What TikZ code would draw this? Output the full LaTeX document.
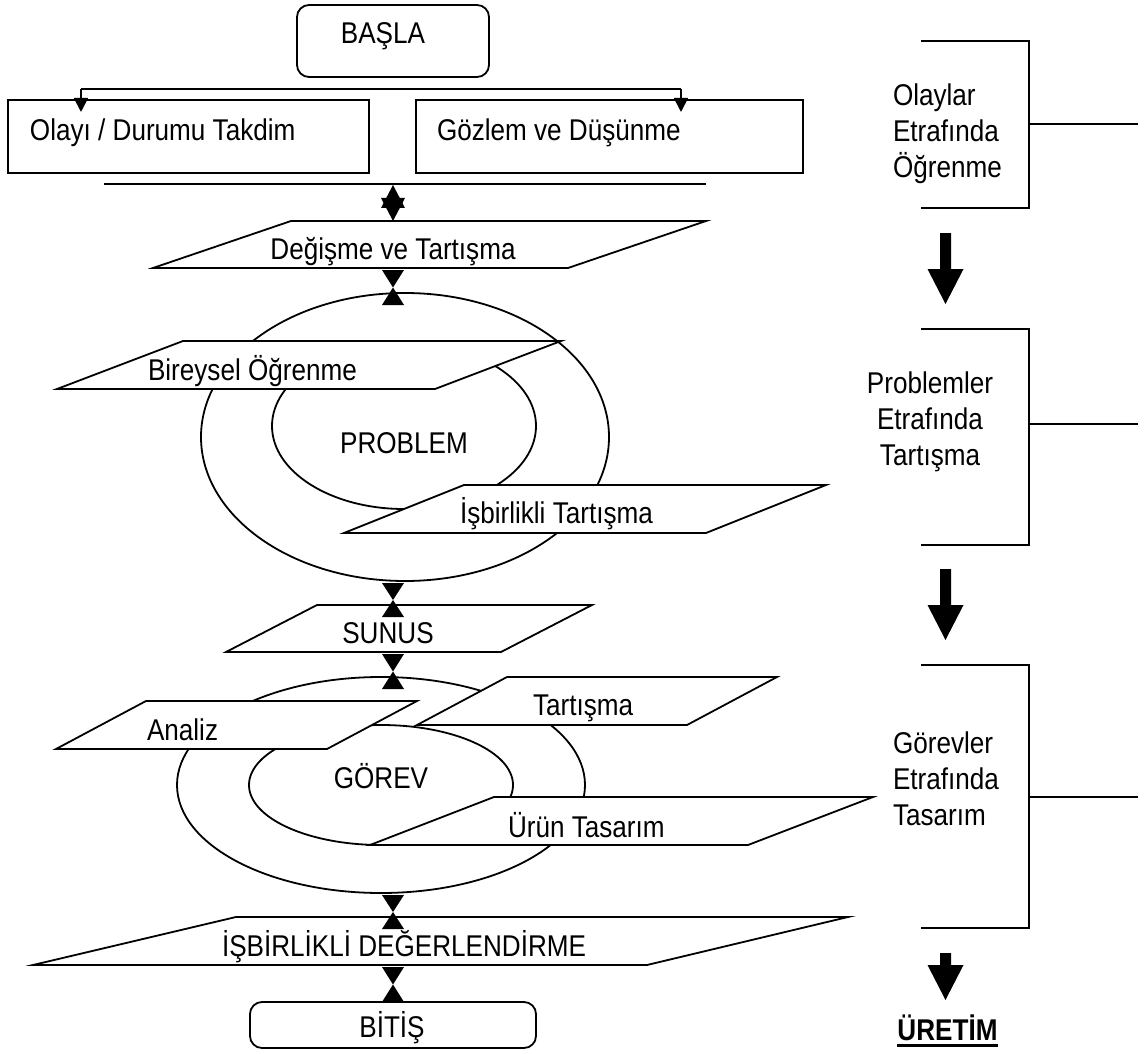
\documentclass[tikz,border=0pt]{standalone}
\usepackage{fontspec}
\setmainfont{Liberation Sans}[FakeStretch=0.87]
\usetikzlibrary{calc,arrows.meta,shapes.geometric}

% two filled triangles meeting point to point between #1 (upper) and #2 (lower)
\newcommand\hglass[2]{%
  \fill ($(#1)+(-11pt,0)$) -- ($(#1)+(11pt,0)$) -- ($(#1)!.5!(#2)$) -- cycle;
  \fill ($(#2)+(-11pt,0)$) -- ($(#2)+(11pt,0)$) -- ($(#1)!.5!(#2)$) -- cycle;}

% thick block arrow: shaft top centre #1, shaft length #2, head length #3
\newcommand\blockarrow[3]{%
  \fill ($(#1)+(-5.5,0)$) -- ++(11,0) -- ++(0,#2) -- ++(12.5,0)
        -- ++(-18,#3) -- ++(-18,-#3) -- ++(12.5,0) -- cycle;}

\begin{document}
\begin{tikzpicture}[x=1pt,y=-1pt,
  every node/.style={inner sep=0pt, outer sep=0pt, font=\fontsize{30}{36}\selectfont},
  outline/.style={draw=black, line width=1.8pt},
  plate/.style={outline, fill=white, line join=miter},
  termbox/.style={plate, rectangle, rounded corners=12pt},
  stepbox/.style={plate, rectangle},
  ring/.style={outline, ellipse},
  lbl/.style={anchor=base west},
  clbl/.style={anchor=base},
  fork/.style={outline, -{Triangle[length=14pt,width=14pt]}}
]
\useasboundingbox (0,0) rectangle (1144,1054);
\coordinate (axis) at (393,0);

% ---------- start and the two opening steps ----------
\node[termbox, minimum width=192pt, minimum height=72pt] (start) at (393,41) {};
\node[clbl] (start-t) at (383,44) {BAŞLA};

\node[stepbox, anchor=north west, minimum width=361pt, minimum height=73pt] (olay) at (8,100) {};
\node[lbl] (olay-t) at (30,141) {Olayı / Durumu Takdim};
\node[stepbox, anchor=north west, minimum width=387pt, minimum height=73pt] (gozlem) at (416,100) {};
\node[lbl] (gozlem-t) at (437,141) {Gözlem ve Düşünme};

\coordinate (fork-l) at (81,89);
\coordinate (fork-r) at (681,89);
\draw[outline] (fork-l) -- (fork-r);
\draw[fork] (fork-l) -- ($(fork-l |- olay.north)+(0,12)$);
\draw[fork] (fork-r) -- ($(fork-r |- gozlem.north)+(0,12)$);

\coordinate (bar-l) at (104,184);
\coordinate (bar-r) at (706,184);
\draw[outline] (bar-l) -- (bar-r);

% ---------- exchange and discussion ----------
\draw[plate] (291,221) -- (706,221) -- (568,268) -- (153,268) -- cycle;
\coordinate (deg-t) at (393,221);
\coordinate (deg-b) at (393,268);
\node[clbl] (deg-lbl) at (393,259) {Değişme ve Tartışma};

% double head between the bar and the exchange step
\fill ($(bar-l -| axis)+(0,1)$) -- ++(-12,23) -- ++(24,0) -- cycle;
\fill (deg-t) -- ++(-12,-23) -- ++(24,0) -- cycle;

% ---------- problem cycle ----------
\node[ring, minimum width=408pt, minimum height=288pt] (probo) at (405,437) {};
\node[ring, minimum width=264pt, minimum height=166pt] (probi) at (404,426) {};
\node[clbl] (prob-lbl) at (404,453) {PROBLEM};

\draw[plate] (183,341) -- (561,341) -- (435,389) -- (57,389) -- cycle;
\node[lbl] (bir-lbl) at (148,380) {Bireysel Öğrenme};
\draw[plate] (464,485) -- (826,485) -- (706,533) -- (344,533) -- cycle;
\node[lbl] (isb-lbl) at (460,523) {İşbirlikli Tartışma};

% ---------- presentation ----------
\draw[plate] (317,605) -- (592,605) -- (501,652) -- (226,652) -- cycle;
\coordinate (sun-t) at (393,605);
\coordinate (sun-b) at (393,652);
\node[clbl] (sun-lbl) at (388,643) {SUNUS};

% ---------- task cycle ----------
\node[ring, minimum width=408pt, minimum height=216pt] (gorevo) at (381,785) {};
\node[ring, minimum width=264pt, minimum height=120pt] (gorevi) at (381,785) {};
\node[clbl] (gorev-lbl) at (381,788) {GÖREV};

\draw[plate] (146,701) -- (417,701) -- (327,749) -- (56,749) -- cycle;
\node[lbl] (analiz-lbl) at (147,740) {Analiz};
\draw[plate] (507,677) -- (777,677) -- (687,725) -- (417,725) -- cycle;
\node[lbl] (tart-lbl) at (533,715) {Tartışma};
\draw[plate] (494,797) -- (873,797) -- (748,845) -- (370,845) -- cycle;
\node[lbl] (urun-lbl) at (508,837) {Ürün Tasarım};

% ---------- evaluation and end ----------
\draw[plate] (236,917) -- (848,917) -- (647,965) -- (33,965) -- cycle;
\coordinate (deg2-t) at (393,917);
\coordinate (deg2-b) at (393,965);
\node[lbl] (deg2-lbl) at (222,956) {İŞBİRLİKLİ DEĞERLENDİRME};

\node[termbox, minimum width=286pt, minimum height=46pt] (end) at (393,1025) {};
\node[clbl] (end-t) at (392,1037) {BİTİŞ};

% ---------- links along the main column ----------
\coordinate (h1a) at ($(deg-b)+(0,2)$);
\coordinate (h1b) at ($(probo.north -| axis)+(0,12)$);
\hglass{h1a}{h1b}
\coordinate (h2a) at ($(probo.south -| axis)+(0,2)$);
\coordinate (h2b) at ($(sun-t)+(0,12)$);
\hglass{h2a}{h2b}
\coordinate (h3a) at ($(sun-b)+(0,2)$);
\coordinate (h3b) at ($(gorevo.north -| axis)+(0,12)$);
\hglass{h3a}{h3b}
\coordinate (h4a) at ($(gorevo.south -| axis)+(0,2)$);
\coordinate (h4b) at ($(deg2-t)+(0,12)$);
\hglass{h4a}{h4b}
\coordinate (h5a) at ($(deg2-b)+(0,2)$);
\coordinate (h5b) at (end.north -| axis);
\hglass{h5a}{h5b}

% ---------- phase brackets on the right ----------
\draw[outline] (921,41) -- (1029,41) -- (1029,208) -- (921,208);
\draw[outline] (1029,124) -- (1138,124);
\node[lbl] (ph1-a) at (893,106) {Olaylar};
\node[lbl] (ph1-b) at (893,142) {Etrafında};
\node[lbl] (ph1-c) at (893,178) {Öğrenme};

\draw[outline] (921,329) -- (1029,329) -- (1029,545) -- (921,545);
\draw[outline] (1029,424) -- (1138,424);
\node[clbl] (ph2-a) at (930,393) {Problemler};
\node[clbl] (ph2-b) at (930,429) {Etrafında};
\node[clbl] (ph2-c) at (930,465) {Tartışma};

\draw[outline] (921,665) -- (1029,665) -- (1029,928) -- (921,928);
\draw[outline] (1029,797) -- (1138,797);
\node[lbl] (ph3-a) at (893,753) {Görevler};
\node[lbl] (ph3-b) at (893,789) {Etrafında};
\node[lbl] (ph3-c) at (893,825) {Tasarım};

\coordinate (ar1) at (945.5,233);
\coordinate (ar2) at (945.5,569);
\coordinate (ar3) at (945.5,953);
\blockarrow{ar1}{36}{35}
\blockarrow{ar2}{36}{35}
\blockarrow{ar3}{12}{35}

\node[clbl, font=\fontsize{30}{36}\selectfont\bfseries] (uretim) at (947.5,1040) {ÜRETİM};
\draw[line width=3pt] ([yshift=-5pt]uretim.base west) -- ([yshift=-5pt]uretim.base east);
\end{tikzpicture}
\end{document}
